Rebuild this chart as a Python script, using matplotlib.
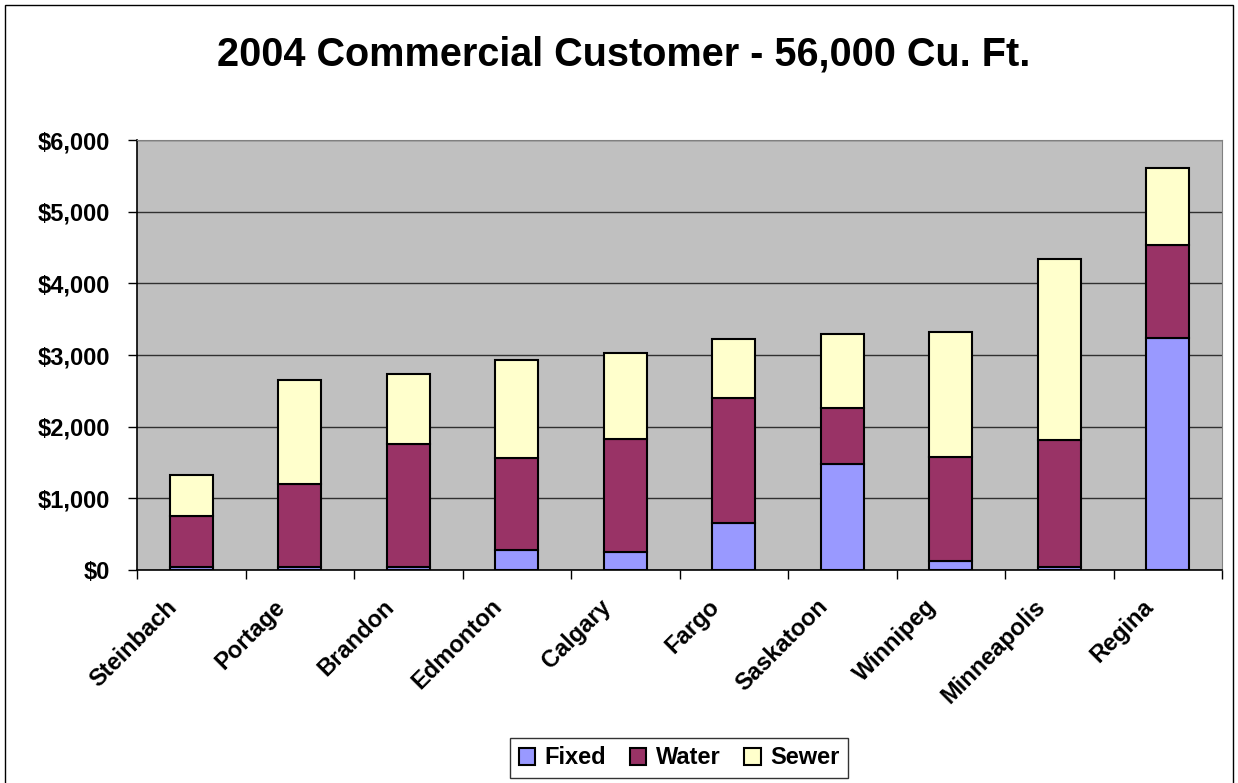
import matplotlib.pyplot as plt
import numpy as np
from matplotlib.patches import Rectangle
from matplotlib.ticker import FuncFormatter
from matplotlib.transforms import ScaledTranslation

cities = ['Steinbach', 'Portage', 'Brandon', 'Edmonton', 'Calgary',
          'Fargo', 'Saskatoon', 'Winnipeg', 'Minneapolis', 'Regina']
fixed = np.array([42, 42, 42, 275, 247, 660, 1474, 126, 47, 3233])
water = np.array([711, 1153, 1716, 1283, 1581, 1736, 791, 1455, 1767, 1302])
sewer = np.array([573, 1456, 972, 1372, 1205, 823, 1028, 1740, 2526, 1079])

plt.rcParams['font.family'] = ['Liberation Sans', 'DejaVu Sans']
plt.rcParams['font.weight'] = 'bold'

fig = plt.figure(figsize=(12.38, 7.83), dpi=100)
ax = fig.add_axes([0.1107, 0.2720, 0.8764, 0.5492])

x = np.arange(len(cities))
w = 0.4
ec = dict(edgecolor='black', linewidth=1.5)
ax.bar(x, fixed, w, color='#9999FF', label='Fixed', **ec, zorder=3)
ax.bar(x, water, w, bottom=fixed, color='#993366', label='Water', **ec, zorder=3)
ax.bar(x, sewer, w, bottom=fixed + water, color='#FFFFCC', label='Sewer', **ec, zorder=3)

ax.set_facecolor('#C0C0C0')
ax.set_xlim(-0.5, len(cities) - 0.5)
ax.set_ylim(0, 6000)
ax.set_yticks(np.arange(0, 6001, 1000))
ax.yaxis.set_major_formatter(FuncFormatter(lambda v, p: '${:,.0f}'.format(v)))
ax.grid(axis='y', color='#303030', linewidth=1, zorder=1)

# ticks between categories, labels under each bar
ax.set_xticks(np.arange(-0.5, len(cities), 1))
ax.set_xticklabels([])
ax.set_xticks(x, minor=True)
ax.set_xticklabels(cities, minor=True, rotation=45, ha='right', va='top',
                   rotation_mode='anchor', fontsize=17, fontweight='bold')
ax.tick_params(axis='x', which='minor', length=0, pad=18)
ax.tick_params(axis='x', which='major', length=6.5, width=1, direction='out')
ax.tick_params(axis='y', length=6.5, width=1, direction='out', labelsize=17, pad=13)
shift = ScaledTranslation(-26 / 100, 0, fig.dpi_scale_trans)
for lab in ax.get_xticklabels(minor=True):
    lab.set_transform(lab.get_transform() + shift)
for lab in ax.get_yticklabels():
    lab.set_fontweight('bold')

for s in ['top', 'right']:
    ax.spines[s].set_color('#808080')
for s in ['left', 'bottom']:
    ax.spines[s].set_color('black')
    ax.spines[s].set_linewidth(1.2)

fig.text(0.504, 1 - 55 / 783, '2004 Commercial Customer - 56,000 Cu. Ft.',
         ha='center', va='center', fontsize=28.5, fontweight='bold')

leg = fig.legend(loc='center', bbox_to_anchor=(679 / 1238, 1 - 758 / 783), ncol=3,
                 frameon=True, fancybox=False, edgecolor='black', fontsize=17,
                 handlelength=0.7, handleheight=0.7, handletextpad=0.4,
                 columnspacing=1.0, borderpad=0.35)
leg.get_frame().set_linewidth(1)

fig.patches.append(Rectangle((5 / 1238, -0.05), 1228 / 1238, 1 - 5 / 783 + 0.05,
                             transform=fig.transFigure, fill=False,
                             edgecolor='black', linewidth=1))

fig.savefig('out.png', dpi=100)
